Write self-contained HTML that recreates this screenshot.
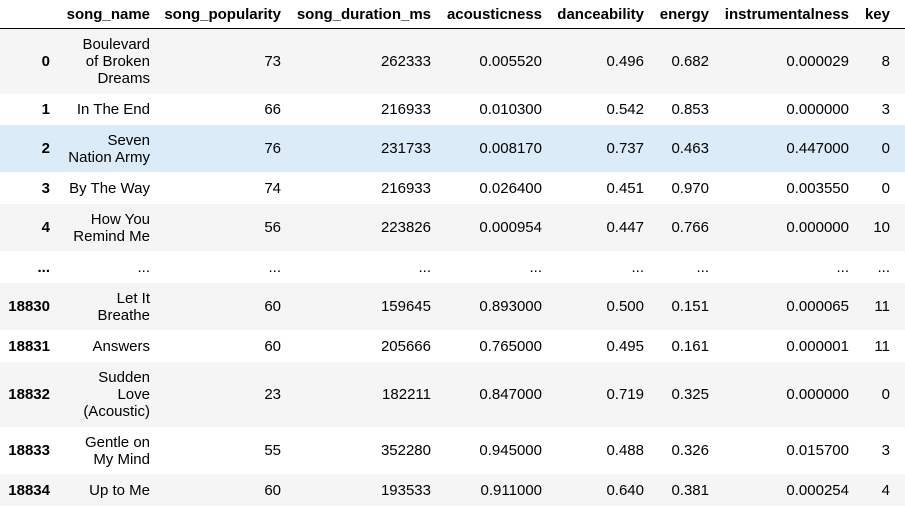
<!DOCTYPE html>
<html><head><meta charset="utf-8"><style>
body{margin:0;width:905px;height:511px;background:#fff;font-family:"Liberation Sans",Arial,sans-serif;font-size:15px;color:#000;position:relative;overflow:hidden}
.row{position:absolute;left:0;width:905px;}
.c{position:absolute;top:0;height:100%;display:flex;align-items:center;justify-content:flex-end;text-align:right;line-height:17px;white-space:nowrap}
.h{font-weight:bold}
.hdr{position:absolute;left:0;top:0;width:905px;height:28px;border-bottom:1px solid #000}
</style></head><body>
<div class="hdr" id="hdr"></div>
<div id="tbl"></div>
<script>
const cols=["","song_name","song_popularity","song_duration_ms","acousticness","danceability","energy","instrumentalness","key"];
const rights=[50,150,281,431,542,644,709,849,890];
const lefts=[0,55,155,285,435,545,648,712,855];
const rows=[
["0","Boulevard<br>of Broken<br>Dreams","73","262333","0.005520","0.496","0.682","0.000029","8"],
["1","In The End","66","216933","0.010300","0.542","0.853","0.000000","3"],
["2","Seven<br>Nation Army","76","231733","0.008170","0.737","0.463","0.447000","0"],
["3","By The Way","74","216933","0.026400","0.451","0.970","0.003550","0"],
["4","How You<br>Remind Me","56","223826","0.000954","0.447","0.766","0.000000","10"],
["...","...","...","...","...","...","...","...","..."],
["18830","Let It<br>Breathe","60","159645","0.893000","0.500","0.151","0.000065","11"],
["18831","Answers","60","205666","0.765000","0.495","0.161","0.000001","11"],
["18832","Sudden<br>Love<br>(Acoustic)","23","182211","0.847000","0.719","0.325","0.000000","0"],
["18833","Gentle on<br>My Mind","55","352280","0.945000","0.488","0.326","0.015700","3"],
["18834","Up to Me","60","193533","0.911000","0.640","0.381","0.000254","4"]];
const ys=[29,94,125,172,204,251,283,330,362,427,474,506];
const bgs=["#f5f5f5","#fff","#dcebf8","#fff","#f5f5f5","#fff","#f5f5f5","#fff","#f5f5f5","#fff","#f5f5f5"];
const hdr=document.getElementById('hdr');
cols.forEach((t,i)=>{const d=document.createElement('div');d.className='c h';


d.style.left=lefts[i]+'px';d.style.width=(rights[i]-lefts[i])+'px';d.style.height='28px';d.innerHTML=t;hdr.appendChild(d);});
const tbl=document.getElementById('tbl');
rows.forEach((r,ri)=>{const row=document.createElement('div');row.className='row';


row.style.top=ys[ri]+'px';row.style.height=(ys[ri+1]-ys[ri])+'px';row.style.background=bgs[ri];
r.forEach((t,i)=>{const d=document.createElement('div');d.className='c'+(i==0?' h':'');


d.style.left=lefts[i]+'px';d.style.width=(rights[i]-lefts[i])+'px';d.innerHTML=t;row.appendChild(d);});
tbl.appendChild(row);});
</script>
</body></html>
